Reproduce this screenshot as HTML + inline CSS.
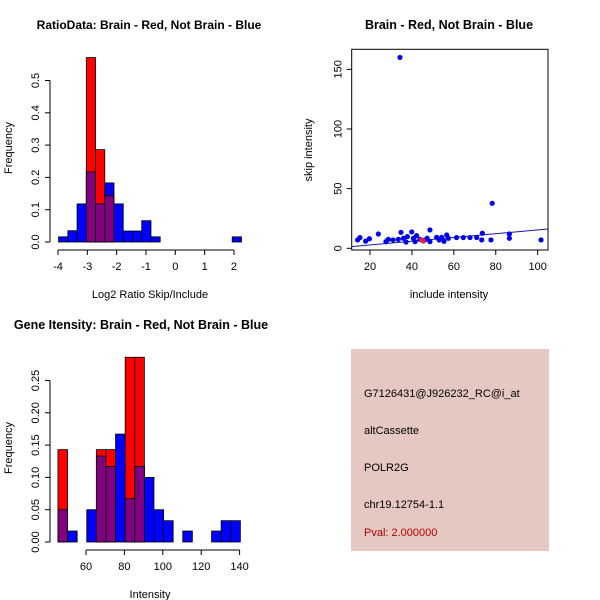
<!DOCTYPE html>
<html><head><meta charset="utf-8"><style>
body{margin:0;background:#fff}
svg{display:block;font-family:"Liberation Sans",sans-serif}
</style></head><body>
<svg id="c" width="600" height="600" xmlns="http://www.w3.org/2000/svg">
<rect x="0" y="0" width="600" height="600" fill="#fff"/>
<g id="p1"></g>
<g id="p2"></g>
<g id="p3"></g>
<g>
<rect x="351" y="349" width="198" height="202" fill="#e5c8c1"/>
<text x="364" y="397" font-size="11" fill="#000">G7126431@J926232_RC@i_at</text>
<text x="364" y="434" font-size="11" fill="#000">altCassette</text>
<text x="364" y="471" font-size="11" fill="#000">POLR2G</text>
<text x="364" y="508" font-size="11" fill="#000">chr19.12754-1.1</text>
<text x="364" y="536" font-size="11" fill="#b00000">Pval: 2.000000</text>
</g>
</svg>
<script>
// ---- Panel 1 data ----
const p1BinLefts = [-3.98,-3.665,-3.35,-3.035,-2.72,-2.405,-2.09,-1.775,-1.46,-1.145,-0.83,1.94];
const p1Blue = [0.016,0.035,0.118,0.217,0.118,0.183,0.118,0.034,0.034,0.066,0.016,0.016];
const p1Red = [0,0,0,0.571,0.286,0.143,0,0,0,0,0,0];
const p1XTicks = [-4,-3,-2,-1,0,1,2];
const p1YTicks = [0.0,0.1,0.2,0.3,0.4,0.5];
const p1BinWidth = 0.315;
// ---- Panel 3 data ----
const p3BinLefts = [45.4,50.4,55.4,60.4,65.4,70.4,75.4,80.4,85.4,90.4,95.4,100.4,105.4,110.4,115.4,120.4,125.4,130.4,135.4];
const p3Blue = [0.05,0.017,0,0.05,0.133,0.117,0.167,0.067,0.117,0.1,0.05,0.033,0,0.017,0,0,0.017,0.033,0.033];
const p3Red = [0.143,0,0,0,0.143,0.143,0,0.286,0.286,0,0,0,0,0,0,0,0,0,0];
const p3XTicks = [60,80,100,120,140];
const p3YTicks = [0.00,0.05,0.10,0.15,0.20,0.25];
const p3BinWidth = 5;
// ---- Panel 2 data ----
const scX = [34.3,78.3,14.1,15.2,17.9,19.7,24,27.6,28.7,31,33.5,34.8,35.9,37.2,37.8,39.9,40.7,41.5,42.2,43.8,46.2,47.3,48.6,48.6,51.8,53,54.2,55.3,56.6,57.4,61.3,64.5,67.7,70.9,73.3,73.6,77.7,86.5,86.5,101.6];
const scY = [160,37.7,7,9,6,8,12,5.6,7.5,7,7.5,13.4,8.4,5.3,9.8,13.7,8.4,5.6,10.6,7.5,7,8.4,15.4,5.6,9.2,7,9.2,5.9,11.2,8.4,9,9,9,9,7,12.6,7,12,8.4,7];
const redX = [44.6,45.4];
const redY = [7,6.1];
const fitLine = [-0.4,0.158]; // intercept, slope
const p2XTicks = [20,40,60,80,100];
const p2YTicks = [0,50,100,150];

const NS="http://www.w3.org/2000/svg";
function mk(parent,tag,attrs){const e=document.createElementNS(NS,tag);for(const k in attrs)e.setAttribute(k,attrs[k]);parent.appendChild(e);return e;}
function txt(parent,x,y,s,size,anchor,rot){const t=mk(parent,'text',{x:x,y:y,'font-size':size,'text-anchor':anchor||'middle',fill:'#000'});if(rot)t.setAttribute('transform','rotate(-90 '+x+' '+y+')');t.textContent=s;return t;}

function hist(g,o){
  const sx=v=>o.x0+(v-o.xa)*o.kx, sy=v=>o.y0-v*o.ky;
  for(let i=0;i<o.lefts.length;i++){
    const l=sx(o.lefts[i]), r=sx(o.lefts[i]+o.w);
    const b=o.blue[i], rd=o.red[i];
    if(b>0){const e=mk(g,'rect',{x:l,y:sy(b),width:r-l,height:sy(0)-sy(b),fill:'#0000ff',stroke:'#000','stroke-width':0.8});
      
      }
    if(rd>0){const e=mk(g,'rect',{x:l,y:sy(rd),width:r-l,height:sy(0)-sy(rd),fill:'#ff0000',stroke:'#000','stroke-width':0.8});
      
      }
    const m=Math.min(b,rd);
    if(m>0){const e=mk(g,'rect',{x:l,y:sy(m),width:r-l,height:sy(0)-sy(m),fill:'#800080',stroke:'#000','stroke-width':0.8});
      
      }
  }
  const xa=mk(g,'g',{});
  
  
  const ay=o.y0+8;
  mk(xa,'line',{x1:sx(o.xt[0]),x2:sx(o.xt[o.xt.length-1]),y1:ay,y2:ay,stroke:'#000'});
  o.xt.forEach(v=>{mk(xa,'line',{x1:sx(v),x2:sx(v),y1:ay,y2:ay+5,stroke:'#000'});
    const t=txt(xa,sx(v),ay+20,String(v),11);
    
    });
  const ya=mk(g,'g',{});
  
  
  const ax=o.yAxisX;
  mk(ya,'line',{x1:ax,x2:ax,y1:sy(o.yt[0]),y2:sy(o.yt[o.yt.length-1]),stroke:'#000'});
  o.yt.forEach(v=>{mk(ya,'line',{x1:ax-5,x2:ax,y1:sy(v),y2:sy(v),stroke:'#000'});
    const t=txt(ya,ax-11,sy(v),v.toFixed(o.dec),11,'middle',true);
    
    });
}

// Panel 1
const g1=document.getElementById('p1');
hist(g1,{lefts:p1BinLefts,blue:p1Blue,red:p1Red,w:p1BinWidth,xa:-4,x0:58,kx:29.33,y0:242,ky:323,xt:p1XTicks,yt:p1YTicks,dec:1,yAxisX:50});
let t;
t=txt(g1,149,29,'RatioData: Brain - Red, Not Brain - Blue',12);t.setAttribute('font-weight','bold');


t=txt(g1,150,298,'Log2 Ratio Skip/Include',11);


t=txt(g1,12,148,'Frequency',11,'middle',true);



// Panel 3
const g3=document.getElementById('p3');
hist(g3,{lefts:p3BinLefts,blue:p3Blue,red:p3Red,w:p3BinWidth,xa:60,x0:86,kx:1.92,y0:542,ky:646,xt:p3XTicks,yt:p3YTicks,dec:2,yAxisX:50});
t=txt(g3,141,329,'Gene Itensity: Brain - Red, Not Brain - Blue',12.5);t.setAttribute('font-weight','bold');


t=txt(g3,150,598,'Intensity',11);


t=txt(g3,12,448,'Frequency',11,'middle',true);



// Panel 2 scatter
const g2=document.getElementById('p2');
const X0=351.7,X1=548,Y0=49.3,Y1=250;
const sx2=v=>370+(v-20)*2.096, sy2=v=>248.3-v*1.193;
const frame=mk(g2,'rect',{x:X0,y:Y0,width:X1-X0,height:Y1-Y0,fill:'none',stroke:'#000'});


const xl0=(X0-370)/2.096+20, xl1=(X1-370)/2.096+20;
const ln=mk(g2,'line',{x1:sx2(xl0),y1:sy2(fitLine[0]+fitLine[1]*xl0),x2:sx2(xl1),y2:sy2(fitLine[0]+fitLine[1]*xl1),stroke:'#1a1aa0','stroke-width':1});


for(let i=0;i<scX.length;i++){const c=mk(g2,'circle',{cx:sx2(scX[i]),cy:sy2(scY[i]),r:2.6,fill:'#0000ee'});
  
  }
for(let i=0;i<redX.length;i++){const c=mk(g2,'circle',{cx:sx2(redX[i]),cy:sy2(redY[i]),r:2.6,fill:'#e0204a'});
  
  }
const xa2=mk(g2,'g',{});


p2XTicks.forEach(v=>{mk(xa2,'line',{x1:sx2(v),x2:sx2(v),y1:Y1,y2:Y1+5,stroke:'#000'});
  const tt=txt(xa2,sx2(v),Y1+20,String(v),11);
  
  });
const ya2=mk(g2,'g',{});


p2YTicks.forEach(v=>{mk(ya2,'line',{x1:X0-5,x2:X0,y1:sy2(v),y2:sy2(v),stroke:'#000'});
  const tt=txt(ya2,X0-10,sy2(v),String(v),11,'middle',true);
  
  });
t=txt(g2,449,29,'Brain - Red, Not Brain - Blue',12.5);t.setAttribute('font-weight','bold');


t=txt(g2,449,298,'include intensity',11);


t=txt(g2,312,150,'skip intensity',11,'middle',true);


</script>
</body></html>
